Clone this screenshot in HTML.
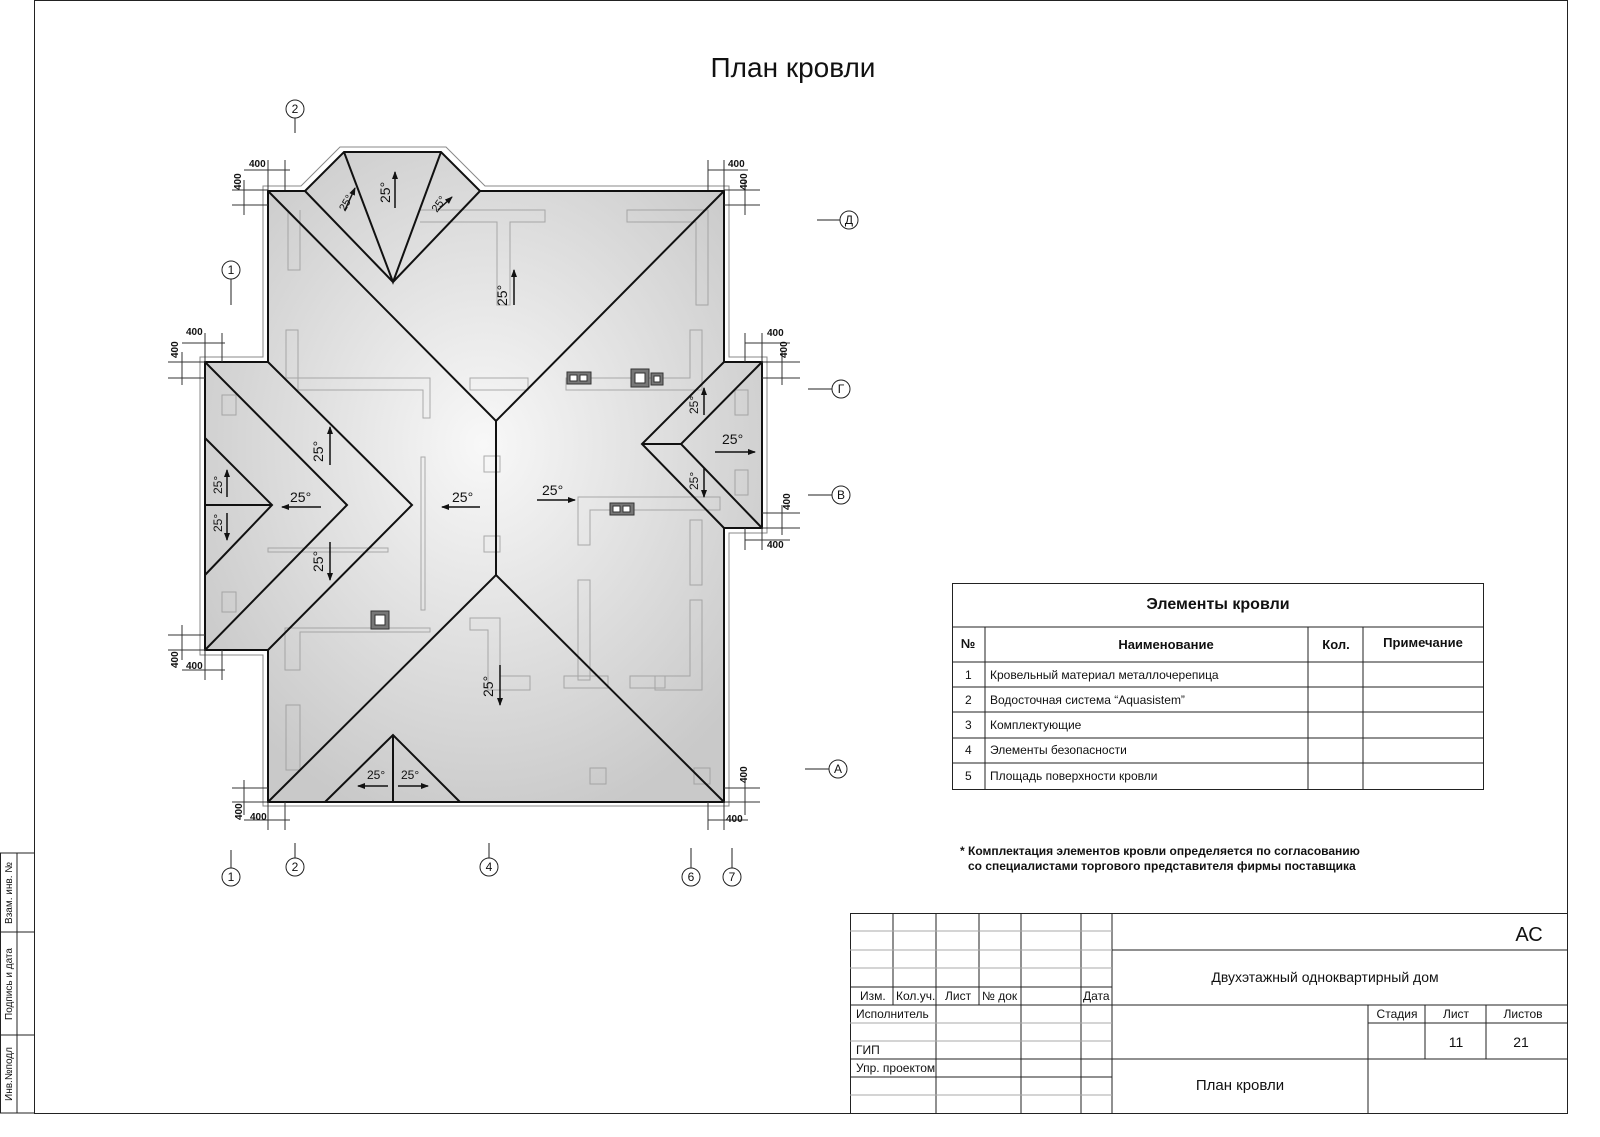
<!DOCTYPE html>
<html><head><meta charset="utf-8"><style>
html,body{margin:0;padding:0;background:#fff}
svg{display:block}
text{font-family:"Liberation Sans",sans-serif;fill:#111}
</style></head><body>
<svg width="1600" height="1137" viewBox="0 0 1600 1137" xmlns="http://www.w3.org/2000/svg">
<defs>
<radialGradient id="g" cx="0.5" cy="0.45" r="0.6">
<stop offset="0" stop-color="#f8f8f8"/><stop offset="1" stop-color="#c9c9c9"/>
</radialGradient>
<marker id="ar" markerWidth="8" markerHeight="8" refX="7" refY="4" orient="auto" markerUnits="userSpaceOnUse"><path d="M0,1 L8,4 L0,7 Z" fill="#111"/></marker>
</defs>
<!-- frame -->
<rect x="34.5" y="0.5" width="1533" height="1113" fill="none" stroke="#222" stroke-width="1"/>
<g stroke="#222" fill="none">
<path d="M0.5 853 V1113 H34 M0 853 H34 M0 932 H34 M0 1035 H34 M17 853 V1113"/>
</g>
<text transform="translate(12,893) rotate(-90)" font-size="10" text-anchor="middle">Взам. инв. №</text>
<text transform="translate(12,984) rotate(-90)" font-size="10" text-anchor="middle">Подпись и дата</text>
<text transform="translate(12,1074) rotate(-90)" font-size="10" text-anchor="middle">Инв.№подл</text>

<text x="793" y="77" font-size="28" text-anchor="middle">План  кровли</text>

<!-- roof -->
<g stroke="#888" stroke-width="1" fill="#fff">
<path d="M263 186 H301 L340 147 H446 L485 186 H729 V357 H767 V533 H729 V806 H263 V655 H200 V357 H263 Z"/>
</g>
<path d="M268 191 H305 L344 152 H441 L480 191 H724 V362 H762 V528 H724 V802 H268 V650 H205 V362 H268 Z" fill="url(#g)" stroke="#333" stroke-width="1.5"/>
<!-- faint interior walls -->
<g stroke="#999" stroke-width="1" fill="none" opacity="0.8">
<path d="M288 210 V270 H300 V210 M420 210 H545 V222 H510 V305 H497 V222 H420"/>
<path d="M627 210 H708 V305 H696 V222 H627 Z"/>
<path d="M286 330 V378 H430 V418 H423 V390 H298 V330 Z"/>
<path d="M470 378 H528 V390 H470 Z M566 378 H690 V330 H702 V390 H566 Z"/>
<path d="M578 497 H720 V510 H590 V545 H578 Z M690 520 H702 V585 H690 Z"/>
<path d="M268 548 H388 V552 H268 Z M425 457 V610 H421 V457 Z"/>
<path d="M285 628 H430 V632 H300 V670 H285 Z M470 618 H500 V690 H488 V630 H470 Z"/>
<path d="M500 676 H530 V690 H500 Z M564 676 H608 V688 H564 Z M630 676 H665 V688 H630 Z"/>
<path d="M578 580 V680 H590 V580 Z M690 600 H702 V690 H655 V676 H690 Z"/>
<path d="M286 705 V770 H300 V705 Z M590 768 H606 V784 H590 Z M694 768 H710 V784 H694 Z"/>
<path d="M484 456 H500 V472 H484 Z M484 536 H500 V552 H484 Z"/>
<path d="M222 395 V415 H236 V395 Z M222 592 V612 H236 V592 Z M735 390 V415 H748 V390 Z M735 470 V495 H748 V470 Z"/>
</g>
<!-- ridges / hips -->
<g stroke="#111" stroke-width="2" fill="none" stroke-linejoin="miter">
<path d="M268 191 L496 421 L724 191 M496 421 V575 M268 802 L496 575 L724 802"/>
<path d="M305 191 L393 282 L480 191 M344 152 L393 282 L441 152"/>
<path d="M205 362 L347 505 L205 650 M268 362 L412 505 L268 650 M205 438 L272 505 L205 575 M205 505 H272"/>
<path d="M724 362 L642 444 L724 528 M762 362 L681 444 L762 528 M642 444 H681"/>
<path d="M325 802 L393 735 L460 802 M393 735 V802"/>
<path d="M268 191 H305 L344 152 H441 L480 191 H724 V362 H762 V528 H724 V802 H268 V650 H205 V362 H268 Z"/>
</g>
<!-- chimneys -->
<g stroke="#333" fill="#777">
<rect x="567" y="372" width="24" height="12"/><rect x="631" y="369" width="18" height="18"/><rect x="651" y="373" width="12" height="12"/>
<rect x="610" y="503" width="24" height="12"/><rect x="371" y="611" width="18" height="18"/>
</g>
<g fill="#fff" stroke="#333"><rect x="570" y="375" width="7" height="6"/><rect x="580" y="375" width="7" height="6"/><rect x="635" y="373" width="10" height="10"/><rect x="654" y="376" width="6" height="6"/><rect x="613" y="506" width="7" height="6"/><rect x="623" y="506" width="7" height="6"/><rect x="375" y="615" width="10" height="10"/></g>

<!-- slope arrows -->
<g stroke="#111" stroke-width="1.5" marker-end="url(#ar)">
<line x1="395" y1="208" x2="395" y2="172"/><line x1="345" y1="210" x2="355" y2="188"/><line x1="438" y1="210" x2="452" y2="197"/>
<line x1="514" y1="305" x2="514" y2="270"/>
<line x1="330" y1="465" x2="330" y2="427"/><line x1="330" y1="542" x2="330" y2="580"/>
<line x1="321" y1="507" x2="282" y2="507"/><line x1="480" y1="507" x2="442" y2="507"/>
<line x1="537" y1="500" x2="575" y2="500"/>
<line x1="227" y1="497" x2="227" y2="470"/><line x1="227" y1="513" x2="227" y2="540"/>
<line x1="500" y1="665" x2="500" y2="705"/>
<line x1="704" y1="415" x2="704" y2="388"/><line x1="704" y1="468" x2="704" y2="497"/>
<line x1="715" y1="452" x2="755" y2="452"/>
<line x1="388" y1="786" x2="358" y2="786"/><line x1="398" y1="786" x2="428" y2="786"/>
</g>
<g font-size="14">
<text transform="translate(390,203) rotate(-90)">25°</text>
<text transform="translate(345,212) rotate(-60)" font-size="11">25°</text>
<text transform="translate(437,213) rotate(-55)" font-size="11">25°</text>
<text transform="translate(507,306) rotate(-90)">25°</text>
<text transform="translate(323,462) rotate(-90)">25°</text>
<text transform="translate(323,572) rotate(-90)">25°</text>
<text x="290" y="502">25°</text><text x="452" y="502">25°</text><text x="542" y="495">25°</text>
<text transform="translate(222,494) rotate(-90)" font-size="12">25°</text>
<text transform="translate(222,532) rotate(-90)" font-size="12">25°</text>
<text transform="translate(493,697) rotate(-90)">25°</text>
<text transform="translate(698,414) rotate(-90)" font-size="12">25°</text>
<text transform="translate(698,490) rotate(-90)" font-size="12">25°</text>
<text x="722" y="444">25°</text>
<text x="367" y="779" font-size="12">25°</text><text x="401" y="779" font-size="12">25°</text>
</g>

<!-- dimension 400 -->
<g stroke="#333" stroke-width="1" fill="none">
<path d="M244 170 H290 M268 160 V190 M285 160 V190 M232 190 H268 M232 205 H268 M244 180 V215"/>
<path d="M708 170 H748 M708 160 V190 M724 160 V190 M724 190 H760 M724 205 H760 M745 180 V215"/>
<path d="M182 343 H225 M205 333 V362 M222 333 V362 M168 362 H205 M168 378 H205 M182 352 V385"/>
<path d="M745 343 H790 M762 333 V362 M745 333 V362 M762 362 H800 M762 378 H800 M782 352 V385"/>
<path d="M182 670 H225 M205 650 V680 M222 650 V680 M168 635 H205 M168 650 H205 M182 625 V660"/>
<path d="M745 540 H790 M762 528 V550 M745 528 V550 M762 513 H800 M762 528 H800 M782 505 V535"/>
<path d="M244 820 H290 M268 802 V830 M285 802 V830 M232 788 H268 M232 802 H268 M244 780 V815"/>
<path d="M708 820 H748 M708 802 V830 M724 802 V830 M724 788 H760 M724 802 H760 M745 780 V815"/>
</g>
<g font-size="10" font-weight="bold">
<text x="249" y="167">400</text><text transform="translate(241,190) rotate(-90)">400</text>
<text x="728" y="167">400</text><text transform="translate(747,190) rotate(-90)">400</text>
<text x="186" y="335">400</text><text transform="translate(178,358) rotate(-90)">400</text>
<text x="767" y="336">400</text><text transform="translate(787,358) rotate(-90)">400</text>
<text x="186" y="669">400</text><text transform="translate(178,668) rotate(-90)">400</text>
<text x="767" y="548">400</text><text transform="translate(790,510) rotate(-90)">400</text>
<text x="250" y="820">400</text><text transform="translate(242,820) rotate(-90)">400</text>
<text x="726" y="822">400</text><text transform="translate(747,783) rotate(-90)">400</text>
</g>

<!-- grid bubbles -->
<g stroke="#222" fill="#fff" stroke-width="1">
<line x1="295" y1="118" x2="295" y2="133"/><circle cx="295" cy="109" r="9"/>
<line x1="231" y1="279" x2="231" y2="305"/><circle cx="231" cy="270" r="9"/>
<line x1="231" y1="850" x2="231" y2="868"/><circle cx="231" cy="877" r="9"/>
<line x1="295" y1="843" x2="295" y2="858"/><circle cx="295" cy="867" r="9"/>
<line x1="489" y1="843" x2="489" y2="858"/><circle cx="489" cy="867" r="9"/>
<line x1="691" y1="848" x2="691" y2="868"/><circle cx="691" cy="877" r="9"/>
<line x1="732" y1="848" x2="732" y2="868"/><circle cx="732" cy="877" r="9"/>
<line x1="817" y1="220" x2="840" y2="220"/><circle cx="849" cy="220" r="9"/>
<line x1="808" y1="389" x2="832" y2="389"/><circle cx="841" cy="389" r="9"/>
<line x1="808" y1="495" x2="832" y2="495"/><circle cx="841" cy="495" r="9"/>
<line x1="805" y1="769" x2="829" y2="769"/><circle cx="838" cy="769" r="9"/>
</g>
<g font-size="12" text-anchor="middle">
<text x="295" y="113">2</text><text x="231" y="274">1</text><text x="231" y="881">1</text><text x="295" y="871">2</text><text x="489" y="871">4</text><text x="691" y="881">6</text><text x="732" y="881">7</text><text x="849" y="224">Д</text><text x="841" y="393">Г</text><text x="841" y="499">В</text><text x="838" y="773">А</text>
</g>

<!-- table -->
<g stroke="#222" fill="none" stroke-width="1">
<rect x="952.5" y="583.5" width="531" height="206"/>
<path d="M952 627 H1484 M952 662 H1484 M952 687 H1484 M952 712 H1484 M952 738 H1484 M952 763 H1484"/>
<path d="M985 627 V789 M1308 627 V789 M1363 627 V789"/>
</g>
<text x="1218" y="609" font-size="16" font-weight="bold" text-anchor="middle">Элементы кровли</text>
<g font-size="13" font-weight="bold" text-anchor="middle">
<text x="968" y="648">№</text><text x="1166" y="649">Наименование</text><text x="1336" y="649">Кол.</text><text x="1423" y="647">Примечание</text>
</g>
<g font-size="12">
<text x="965" y="679">1</text><text x="990" y="679">Кровельный материал металлочерепица</text>
<text x="965" y="704">2</text><text x="990" y="704">Водосточная система “Aquasistem”</text>
<text x="965" y="729">3</text><text x="990" y="729">Комплектующие</text>
<text x="965" y="754">4</text><text x="990" y="754">Элементы безопасности</text>
<text x="965" y="780">5</text><text x="990" y="780">Площадь поверхности кровли</text>
</g>
<g font-size="12" font-weight="bold">
<text x="960" y="855">* Комплектация элементов кровли определяется  по согласованию</text>
<text x="968" y="870">со специалистами торгового представителя фирмы поставщика</text>
</g>

<!-- title block -->
<g stroke="#222" fill="none" stroke-width="1">
<path d="M850.5 913 V1113 M850 913.5 H1567"/>
<path d="M893 913 V1005 M936 913 V1113 M979 913 V1005 M1021 913 V1113 M1081 913 V1113 M1112 913 V1113"/>
<path d="M850 987 H1112 M850 1005 H1567 M850 1059 H1112 M850 1077 H1112"/>
<path d="M1112 950 H1567 M1112 1059 H1567 M1368 1005 V1113 M1425 1005 V1059 M1486 1005 V1059 M1368 1023 H1567"/>
</g>
<g stroke="#aaa" fill="none"><path d="M850 931 H1112 M850 950 H1112 M850 968 H1112 M850 1023 H1112 M850 1041 H1112 M850 1095 H1112"/></g>
<g font-size="12">
<text x="860" y="1000">Изм.</text><text x="896" y="1000">Кол.уч.</text><text x="945" y="1000">Лист</text><text x="982" y="1000">№ док</text><text x="1083" y="1000">Дата</text>
<text x="856" y="1018">Исполнитель</text><text x="856" y="1054">ГИП</text><text x="856" y="1072">Упр. проектом</text>
<text x="1397" y="1018" text-anchor="middle">Стадия</text><text x="1456" y="1018" text-anchor="middle">Лист</text><text x="1523" y="1018" text-anchor="middle">Листов</text>
</g>
<text x="1529" y="941" font-size="20" text-anchor="middle">АС</text>
<text x="1325" y="982" font-size="14" text-anchor="middle">Двухэтажный одноквартирный дом</text>
<text x="1456" y="1047" font-size="14" text-anchor="middle">11</text><text x="1521" y="1047" font-size="14" text-anchor="middle">21</text>
<text x="1240" y="1090" font-size="15" text-anchor="middle">План кровли</text>
</svg>
</body></html>
